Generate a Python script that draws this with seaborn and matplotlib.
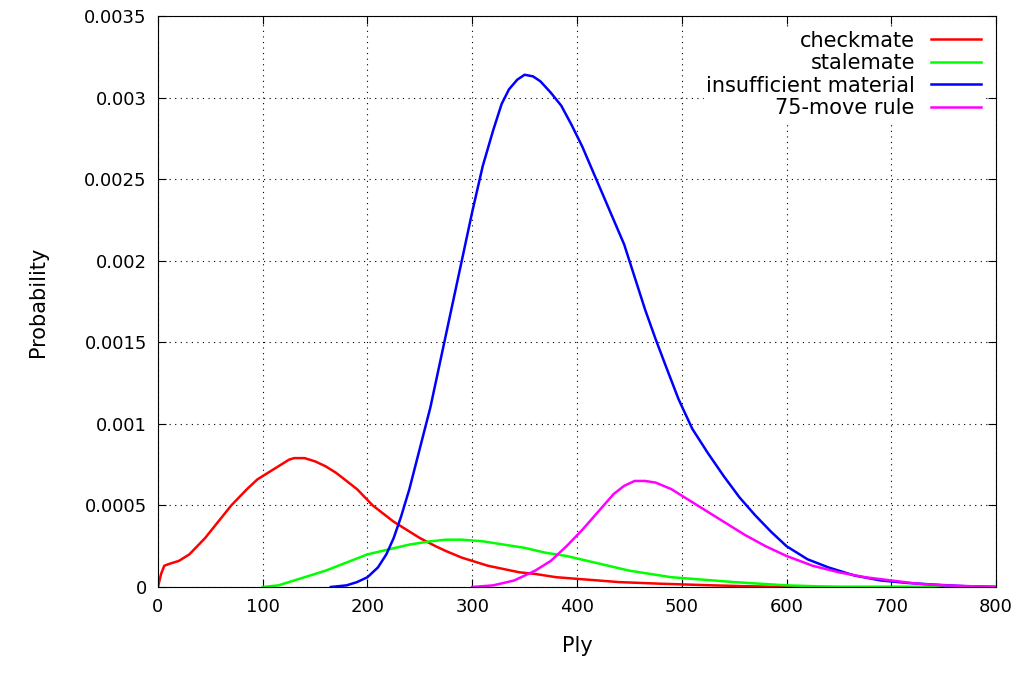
import matplotlib
matplotlib.use("Agg")
import matplotlib.pyplot as plt
import seaborn as sns
import pandas as pd

checkmate_x = [0, 3, 6, 10, 20, 30, 45, 60, 70, 85, 95, 105, 115, 125, 130, 140, 150, 160, 170, 180, 190, 205, 215, 225, 240, 250, 265, 275, 290, 300, 315, 330, 345, 360, 380, 400, 420, 440, 460, 480, 505, 530, 560, 600, 700, 800]
checkmate_y = [0, 0.00008, 0.00013, 0.00014, 0.00016, 0.0002, 0.0003, 0.00042, 0.0005, 0.0006, 0.00066, 0.0007, 0.00074, 0.00078, 0.00079, 0.00079, 0.00077, 0.00074, 0.0007, 0.00065, 0.0006, 0.0005, 0.00045, 0.0004, 0.00034, 0.0003, 0.00025, 0.00022, 0.00018, 0.00016, 0.00013, 0.00011, 0.00009, 0.00008, 0.00006, 0.00005, 0.00004, 0.00003, 0.000025, 0.00002, 0.000015, 0.00001, 0.000005, 0, 0, 0]
stalemate_x = [100, 115, 125, 140, 160, 180, 200, 220, 240, 260, 275, 290, 310, 330, 350, 370, 390, 410, 430, 450, 470, 490, 510, 530, 550, 575, 600, 650, 800]
stalemate_y = [0, 0.00001, 0.00003, 0.00006, 0.0001, 0.00015, 0.0002, 0.00023, 0.00026, 0.00028, 0.00029, 0.00029, 0.00028, 0.00026, 0.00024, 0.00021, 0.00019, 0.00016, 0.00013, 0.0001, 0.00008, 0.00006, 0.00005, 0.00004, 0.00003, 0.00002, 0.00001, 0, 0]
insuff_x = [165, 180, 190, 200, 210, 218, 225, 232, 240, 250, 260, 270, 280, 290, 300, 310, 320, 328, 335, 343, 350, 358, 365, 375, 385, 395, 405, 415, 425, 435, 445, 455, 465, 475, 485, 497, 510, 525, 540, 555, 570, 585, 600, 620, 640, 665, 690, 715, 740, 770, 800]
insuff_y = [0, 0.00001, 0.00003, 0.00006, 0.00012, 0.0002, 0.0003, 0.00043, 0.0006, 0.00085, 0.0011, 0.0014, 0.0017, 0.002, 0.0023, 0.00258, 0.0028, 0.00296, 0.00305, 0.00311, 0.00314, 0.00313, 0.0031, 0.00303, 0.00295, 0.00283, 0.0027, 0.00255, 0.0024, 0.00225, 0.0021, 0.0019, 0.0017, 0.00152, 0.00135, 0.00115, 0.00097, 0.00082, 0.00068, 0.00055, 0.00044, 0.00034, 0.00025, 0.00017, 0.00012, 0.00007, 0.00004, 0.000025, 0.000015, 0.000005, 0]
move75_x = [300, 320, 340, 360, 375, 390, 405, 420, 435, 445, 455, 465, 475, 490, 500, 515, 530, 545, 560, 580, 600, 625, 650, 675, 700, 725, 750, 800]
move75_y = [0, 0.00001, 0.00004, 0.0001, 0.00016, 0.00025, 0.00035, 0.00046, 0.00057, 0.00062, 0.00065, 0.00065, 0.00064, 0.0006, 0.00056, 0.0005, 0.00044, 0.00038, 0.00032, 0.00025, 0.00019, 0.00013, 0.00009, 0.00006, 0.00004, 0.00002, 0.00001, 0]

series = [("checkmate", checkmate_x, checkmate_y, "#ff0000"),
          ("stalemate", stalemate_x, stalemate_y, "#00ff00"),
          ("insufficient material", insuff_x, insuff_y, "#0000ff"),
          ("75-move rule", move75_x, move75_y, "#ff00ff")]

plt.rcParams["font.family"] = "DejaVu Sans"
fig = plt.figure(figsize=(10.29, 6.73), dpi=100)
ax = fig.add_axes([0.1535, 0.1278, 0.8145, 0.8484])
for name, xs, ys, c in series:
    df = pd.DataFrame({"x": xs, "y": ys})
    sns.lineplot(data=df, x="x", y="y", ax=ax, color=c, label=name, linewidth=1.8)
ax.set_xlim(0, 800)
ax.set_ylim(0, 0.0035)
ax.set_xticks(range(0, 801, 100))
ax.set_yticks([0, 0.0005, 0.001, 0.0015, 0.002, 0.0025, 0.003, 0.0035])
ax.set_yticklabels(["0", "0.0005", "0.001", "0.0015", "0.002", "0.0025", "0.003", "0.0035"])
ax.grid(True, linestyle=(0, (1, 4)), color="black", linewidth=0.8)
ax.tick_params(direction="in", top=True, right=True, length=6, labelsize=13, pad=8)
ax.set_xlabel("Ply", fontsize=15, labelpad=14)
ax.set_ylabel("Probability", fontsize=15, labelpad=26)
leg = ax.legend(loc="upper right", markerfirst=False, frameon=True, fancybox=False,
                edgecolor="white", framealpha=1, handlelength=2.4, borderpad=0.1,
                labelspacing=0.12, fontsize=15, borderaxespad=0.6)
fig.savefig("out.png", dpi=100)
